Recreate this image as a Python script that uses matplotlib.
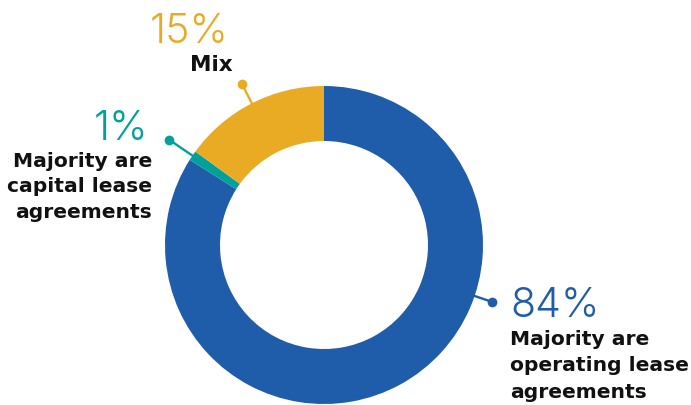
import numpy as np
import matplotlib.pyplot as plt

# Lease agreement split
labels = ['Majority are\noperating lease\nagreements',
          'Majority are\ncapital lease\nagreements',
          'Mix']
shares = [84, 1, 15]
pct_labels = ['84%', '1%', '15%']
colors = ['#1F5DAB', '#00A19A', '#EAAB24']

fig = plt.figure(figsize=(6.91, 4.06), dpi=100)
ax = fig.add_axes([0, 0, 1, 1])

# work in pixel-like units, y pointing up
H = 406
cx, cy = 324, H - 246
R = 159

wedges, _ = ax.pie(shares, colors=colors, startangle=90, counterclock=False,
                   center=(cx, cy), radius=R,
                   wedgeprops=dict(width=55, linewidth=0))

ax.set_xlim(0, 691)
ax.set_ylim(0, H)
ax.set_aspect('equal')
ax.axis('off')

# leader angle (degrees, math convention) and length for each slice
lead_angle = [-18.7, None, None]
lead_len = [18, 28, 22]
for i, w in enumerate(wedges):
    ang = lead_angle[i]
    if ang is None:
        ang = (w.theta1 + w.theta2) / 2
    a = np.deg2rad(ang)
    r0, r1 = R - 3, R + lead_len[i]
    ax.plot([cx + r0 * np.cos(a), cx + r1 * np.cos(a)],
            [cy + r0 * np.sin(a), cy + r1 * np.sin(a)],
            color=colors[i], lw=1.7, solid_capstyle='butt', zorder=3)
    ax.plot(cx + r1 * np.cos(a), cy + r1 * np.sin(a), 'o',
            color=colors[i], ms=7, mec='none', zorder=4)

pct_font = dict(family=['Inter', 'DejaVu Sans'], fontweight=300, fontsize=29.5)
lab_font = dict(family='DejaVu Sans', fontweight='bold', fontsize=14.6,
                color='#111111', linespacing=1.42)

# operating lease (right side)
ax.text(510, H - 317, pct_labels[0], color=colors[0], ha='left', va='baseline', **pct_font)
ax.text(510, H - 330, labels[0], ha='left', va='top', **dict(lab_font, linespacing=1.5))

# capital lease (left side)
ax.text(148, H - 140, pct_labels[1], color=colors[1], ha='right', va='baseline', **pct_font)
ax.text(152, H - 152, labels[1], ha='right', va='top', **lab_font)

# mix (top)
ax.text(229, H - 43, pct_labels[2], color=colors[2], ha='right', va='baseline', **pct_font)
ax.text(233, H - 71, labels[2], ha='right', va='baseline',
        **dict(lab_font, fontsize=15.5))

fig.savefig('out.png', dpi=100, facecolor='white')
